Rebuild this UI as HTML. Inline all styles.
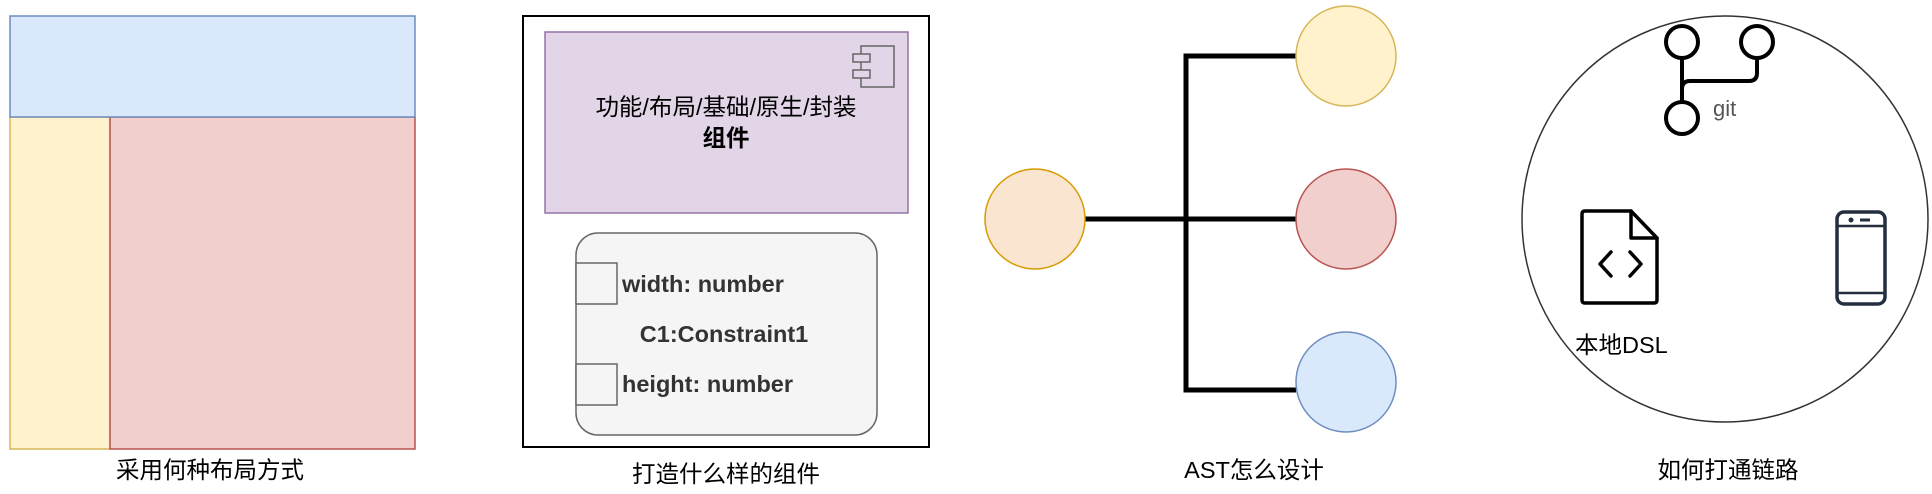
<!DOCTYPE html>
<html><head><meta charset="utf-8"><style>
html,body{margin:0;padding:0;background:#fff;}
svg{display:block;}
text{font-family:"Liberation Sans","Noto Sans CJK SC",sans-serif;}
</style></head><body>
<svg width="1932" height="494" viewBox="0 0 1932 494" xmlns="http://www.w3.org/2000/svg">
<!-- Panel 1 -->
<rect x="10" y="117" width="100" height="332" fill="#fff2cc" stroke="#d6b656" stroke-width="1.5"/>
<rect x="110" y="117" width="305" height="332" fill="#f0cfcd" stroke="#b85450" stroke-width="1.5"/>
<rect x="10" y="16" width="405" height="101" fill="#dae8fc" stroke="#6c8ebf" stroke-width="1.5"/>
<text x="210" y="478" font-size="23.5" text-anchor="middle" fill="#000">采用何种布局方式</text>

<!-- Panel 2 -->
<rect x="523" y="16" width="406" height="431" fill="#fff" stroke="#000" stroke-width="2"/>
<rect x="545" y="32" width="363" height="181" fill="#e1d5e7" stroke="#9673a6" stroke-width="1.5"/>
<rect x="861" y="46" width="33" height="41" fill="none" stroke="#666" stroke-width="1.5"/>
<rect x="853" y="54" width="17" height="8" fill="#e1d5e7" stroke="#666" stroke-width="1.5"/>
<rect x="853" y="70" width="17" height="8" fill="#e1d5e7" stroke="#666" stroke-width="1.5"/>
<text x="726" y="115" font-size="23.5" text-anchor="middle" fill="#000">功能/布局/基础/原生/封装</text>
<text x="726" y="146" font-size="23.5" font-weight="bold" text-anchor="middle" fill="#000">组件</text>
<rect x="576" y="233" width="301" height="202" rx="22" fill="#f5f5f5" stroke="#666" stroke-width="1.5"/>
<rect x="576" y="263" width="41" height="41" fill="#f5f5f5" stroke="#666" stroke-width="1.5"/>
<rect x="576" y="364" width="41" height="41" fill="#f5f5f5" stroke="#666" stroke-width="1.5"/>
<text x="622" y="292" font-size="23.5" font-weight="bold" fill="#333">width: number</text>
<text x="724" y="342" font-size="23.5" font-weight="bold" text-anchor="middle" fill="#333">C1:Constraint1</text>
<text x="622" y="392" font-size="23.5" font-weight="bold" fill="#333">height: number</text>
<text x="726" y="482" font-size="23.5" text-anchor="middle" fill="#000">打造什么样的组件</text>

<!-- Panel 3 -->
<g stroke="#000" stroke-width="5" fill="none">
<polyline points="1296,56 1186,56 1186,390 1296,390"/>
<line x1="1085" y1="219" x2="1296" y2="219"/>
</g>
<ellipse cx="1035" cy="219" rx="50" ry="50" fill="#fae6d0" stroke="#d79b00" stroke-width="1.5"/>
<ellipse cx="1346" cy="56" rx="50" ry="50" fill="#fff2cc" stroke="#d6b656" stroke-width="1.5"/>
<ellipse cx="1346" cy="219" rx="50" ry="50" fill="#f0cfcd" stroke="#b85450" stroke-width="1.5"/>
<ellipse cx="1346" cy="382" rx="50" ry="50" fill="#dae8fc" stroke="#6c8ebf" stroke-width="1.5"/>
<text x="1254" y="478" font-size="23.5" text-anchor="middle" fill="#000">AST怎么设计</text>

<!-- Panel 4 -->
<ellipse cx="1725" cy="219" rx="203" ry="203" fill="#fff" stroke="#333" stroke-width="1.5"/>
<g stroke="#000" stroke-width="4" fill="none">
<circle cx="1682" cy="42" r="16"/>
<circle cx="1757" cy="42" r="16"/>
<circle cx="1682" cy="118" r="16"/>
<line x1="1682" y1="58" x2="1682" y2="102"/>
<path d="M1757 58 V73 Q1757 81 1749 81 H1690 Q1682 81 1682 89"/>
</g>
<text x="1713" y="116" font-size="22" fill="#555">git</text>
<g stroke="#000" stroke-width="3.5" fill="none" stroke-linejoin="round" stroke-linecap="round">
<path d="M1585 211 H1631 L1657 238 V300 Q1657 303 1654 303 H1585 Q1582 303 1582 300 V214 Q1582 211 1585 211 Z"/>
<path d="M1631 211 V238 H1657"/>
<path d="M1611 252 L1600 264 L1611 276"/>
<path d="M1630 252 L1641 264 L1630 276"/>
</g>
<g stroke="#232f3e" stroke-width="3.5" fill="none">
<rect x="1837" y="212" width="48" height="92" rx="7"/>
<line x1="1837" y1="226" x2="1885" y2="226" stroke-width="2.5"/>
<line x1="1837" y1="293" x2="1885" y2="293" stroke-width="2.5"/>
<line x1="1860" y1="220" x2="1870" y2="220" stroke-width="3"/>
</g>
<circle cx="1851" cy="220" r="2.5" fill="#232f3e"/>
<text x="1575" y="353" font-size="23.5" fill="#000">本地DSL</text>
<text x="1728" y="478" font-size="23.5" text-anchor="middle" fill="#000">如何打通链路</text>
</svg>
</body></html>
